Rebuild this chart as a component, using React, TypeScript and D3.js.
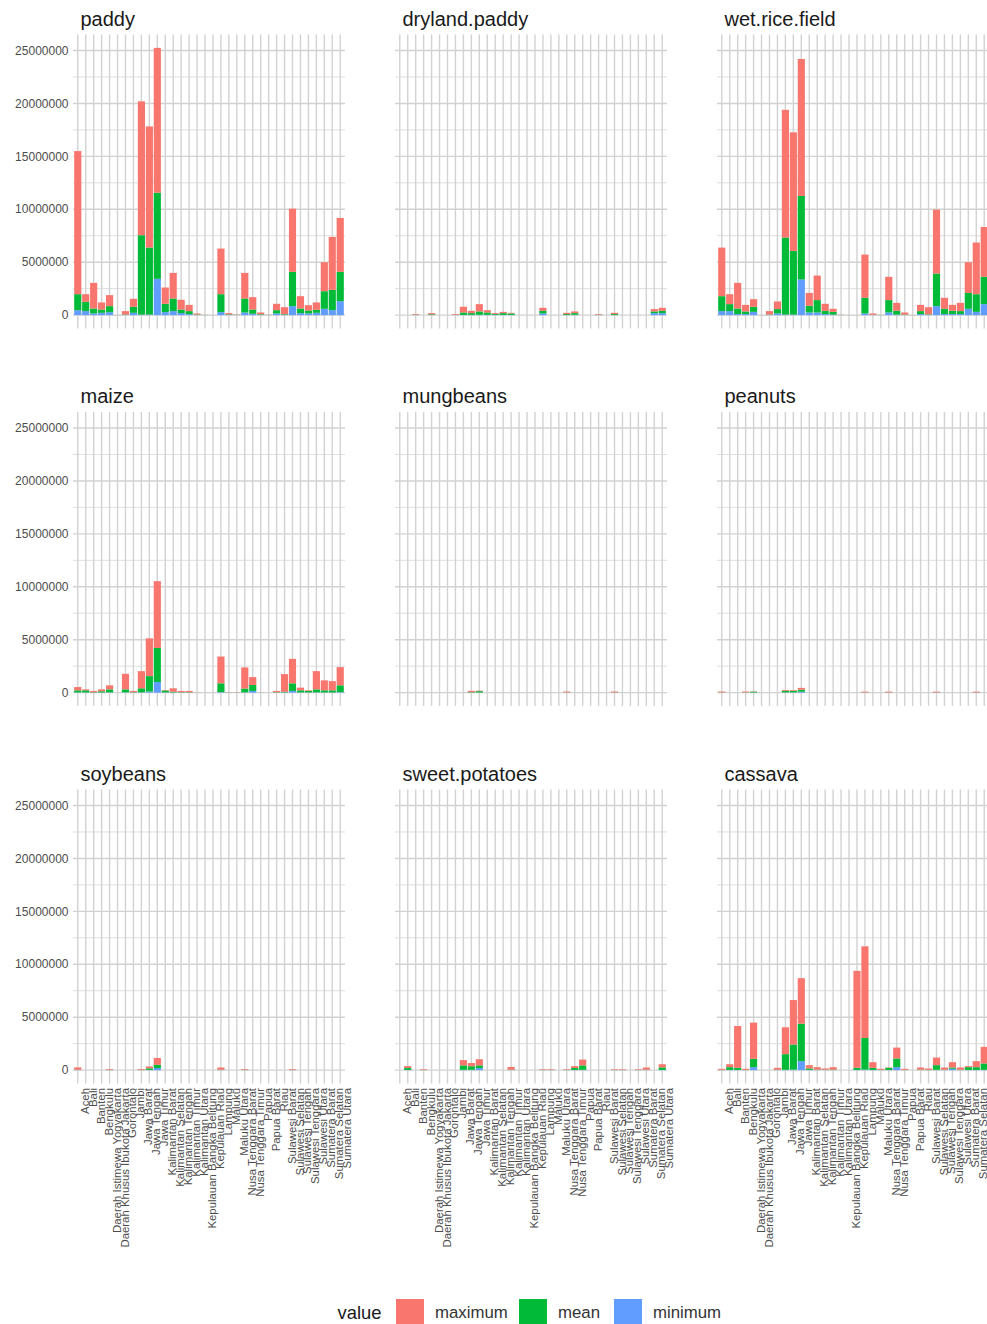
import React from "react";
import * as d3 from "d3";

// Indonesian provinces, alphabetical (x categories of every panel)
const provinces = [
  "Aceh", "Bali", "Banten", "Bengkulu", "Daerah Istimewa Yogyakarta",
  "Daerah Khusus Ibukota Jakarta", "Gorontalo", "Jambi", "Jawa Barat", "Jawa Tengah",
  "Jawa Timur", "Kalimantan Barat", "Kalimantan Selatan", "Kalimantan Tengah", "Kalimantan Timur",
  "Kalimantan Utara", "Kepulauan Bangka Belitung", "Kepulauan Riau", "Lampung", "Maluku",
  "Maluku Utara", "Nusa Tenggara Barat", "Nusa Tenggara Timur", "Papua", "Papua Barat",
  "Riau", "Sulawesi Barat", "Sulawesi Selatan", "Sulawesi Tengah", "Sulawesi Tenggara",
  "Sulawesi Utara", "Sumatera Barat", "Sumatera Selatan", "Sumatera Utara",
];

const valueLevels = ["maximum", "mean", "minimum"];
const levelColors = ["#F8766D", "#00BA38", "#619CFF"];
const yTicks = [0, 5000000, 10000000, 15000000, 20000000, 25000000];

// stacked segment values per crop (minimum at the bottom, maximum on top)
const paddy = {
  minimum: [470000, 380000, 160000, 220000, 280000, 2000, 20000, 220000, 50000, 50000, 3430000, 280000, 380000, 200000, 90000, 20000, 5000, 1000, 280000, 20000, 10000, 250000, 130000, 20000, 5000, 160000, 30000, 850000, 190000, 160000, 220000, 600000, 470000, 1320000],
  mean: [1510000, 880000, 470000, 310000, 570000, 4000, 40000, 570000, 7500000, 6340000, 8140000, 790000, 1190000, 330000, 290000, 40000, 10000, 2000, 1700000, 50000, 20000, 1320000, 400000, 60000, 10000, 310000, 60000, 3240000, 440000, 280000, 280000, 1660000, 1920000, 2770000],
  maximum: [13520000, 720000, 2420000, 670000, 1040000, 8000, 320000, 750000, 12650000, 11440000, 13680000, 1540000, 2420000, 920000, 590000, 100000, 15000, 3000, 4310000, 120000, 30000, 2420000, 1170000, 170000, 20000, 600000, 660000, 5970000, 1160000, 500000, 700000, 2740000, 5000000, 5090000],
};

const drylandPaddy = {
  minimum: [0, 0, 10000, 0, 20000, 0, 0, 10000, 20000, 20000, 30000, 30000, 20000, 20000, 20000, 0, 0, 0, 160000, 0, 0, 10000, 30000, 0, 0, 10000, 0, 10000, 0, 0, 0, 0, 190000, 190000],
  mean: [0, 0, 30000, 0, 60000, 0, 0, 20000, 230000, 170000, 320000, 220000, 80000, 170000, 140000, 0, 0, 0, 250000, 0, 0, 90000, 160000, 0, 0, 30000, 0, 90000, 0, 0, 0, 0, 160000, 220000],
  maximum: [0, 0, 60000, 0, 110000, 0, 0, 70000, 540000, 220000, 690000, 220000, 90000, 120000, 60000, 0, 0, 0, 280000, 0, 0, 120000, 160000, 0, 0, 60000, 0, 120000, 0, 0, 0, 0, 220000, 280000],
};

const wetRiceField = {
  minimum: [380000, 380000, 100000, 100000, 310000, 2000, 20000, 160000, 50000, 50000, 3370000, 250000, 250000, 100000, 50000, 5000, 2000, 1000, 160000, 10000, 5000, 250000, 50000, 10000, 3000, 100000, 20000, 850000, 100000, 100000, 100000, 600000, 310000, 1040000],
  mean: [1410000, 660000, 530000, 250000, 480000, 4000, 40000, 410000, 7280000, 6020000, 7890000, 630000, 1170000, 310000, 260000, 10000, 4000, 2000, 1480000, 30000, 10000, 1170000, 360000, 40000, 6000, 280000, 50000, 3080000, 500000, 310000, 280000, 1500000, 1670000, 2580000],
  maximum: [4590000, 940000, 2420000, 620000, 720000, 8000, 320000, 720000, 12070000, 11200000, 12940000, 1220000, 2320000, 660000, 290000, 20000, 6000, 3000, 4080000, 120000, 15000, 2200000, 750000, 200000, 10000, 590000, 680000, 6040000, 1040000, 560000, 780000, 2900000, 4880000, 4710000],
};

const maize = {
  minimum: [20000, 20000, 10000, 10000, 30000, 0, 30000, 10000, 30000, 100000, 1000000, 20000, 20000, 10000, 10000, 3000, 0, 0, 50000, 5000, 5000, 30000, 160000, 2000, 0, 10000, 20000, 160000, 20000, 20000, 30000, 20000, 20000, 50000],
  mean: [200000, 200000, 30000, 120000, 280000, 0, 280000, 30000, 380000, 1460000, 3220000, 180000, 60000, 30000, 30000, 5000, 0, 0, 830000, 10000, 10000, 350000, 560000, 4000, 0, 30000, 60000, 720000, 200000, 140000, 280000, 200000, 200000, 640000],
  maximum: [310000, 90000, 120000, 180000, 380000, 0, 1470000, 120000, 1620000, 3570000, 6310000, 50000, 330000, 120000, 120000, 8000, 0, 0, 2530000, 20000, 20000, 2000000, 750000, 8000, 0, 120000, 1670000, 2310000, 250000, 60000, 1720000, 940000, 870000, 1720000],
};

const mungbeans = {
  minimum: [0, 0, 0, 0, 0, 0, 0, 0, 0, 10000, 10000, 0, 0, 0, 0, 0, 0, 0, 0, 0, 0, 5000, 0, 0, 0, 0, 0, 5000, 0, 0, 0, 0, 0, 0],
  mean: [0, 0, 0, 0, 0, 0, 0, 0, 0, 40000, 130000, 0, 0, 0, 0, 0, 0, 0, 0, 0, 0, 20000, 0, 0, 0, 0, 0, 20000, 0, 0, 0, 0, 0, 0],
  maximum: [0, 0, 0, 0, 0, 0, 0, 0, 0, 120000, 50000, 0, 0, 0, 0, 0, 0, 0, 0, 0, 0, 80000, 0, 0, 0, 0, 0, 80000, 0, 0, 0, 0, 0, 0],
};

const peanuts = {
  minimum: [5000, 0, 0, 5000, 10000, 0, 0, 0, 20000, 20000, 80000, 0, 0, 0, 0, 0, 0, 0, 5000, 0, 0, 5000, 0, 0, 0, 0, 0, 5000, 0, 0, 0, 0, 5000, 0],
  mean: [20000, 0, 0, 20000, 80000, 0, 0, 0, 150000, 150000, 200000, 0, 0, 0, 0, 0, 0, 0, 20000, 0, 0, 20000, 0, 0, 0, 0, 0, 20000, 0, 0, 0, 0, 20000, 0],
  maximum: [80000, 0, 0, 80000, 30000, 0, 0, 0, 80000, 70000, 170000, 0, 0, 0, 0, 0, 0, 0, 70000, 0, 0, 70000, 0, 0, 0, 0, 0, 70000, 0, 0, 0, 0, 70000, 0],
};

const soybeans = {
  minimum: [10000, 0, 0, 0, 5000, 0, 0, 0, 5000, 20000, 200000, 0, 0, 0, 0, 0, 0, 0, 10000, 0, 0, 5000, 0, 0, 0, 0, 0, 5000, 0, 0, 0, 0, 0, 0],
  mean: [30000, 0, 0, 0, 20000, 0, 0, 0, 20000, 150000, 300000, 0, 0, 0, 0, 0, 0, 0, 30000, 0, 0, 20000, 0, 0, 0, 0, 0, 20000, 0, 0, 0, 0, 0, 0],
  maximum: [220000, 0, 0, 0, 70000, 0, 0, 0, 80000, 180000, 650000, 0, 0, 0, 0, 0, 0, 0, 210000, 0, 0, 70000, 0, 0, 0, 0, 0, 70000, 0, 0, 0, 0, 0, 0],
};

const sweetPotatoes = {
  minimum: [0, 20000, 0, 5000, 0, 0, 0, 0, 30000, 30000, 190000, 0, 0, 0, 10000, 0, 0, 0, 5000, 5000, 0, 5000, 20000, 30000, 0, 0, 0, 5000, 5000, 0, 5000, 10000, 0, 20000],
  mean: [0, 180000, 0, 15000, 0, 0, 0, 0, 420000, 340000, 260000, 0, 0, 0, 30000, 0, 0, 0, 15000, 15000, 0, 15000, 180000, 420000, 0, 0, 0, 15000, 15000, 0, 15000, 30000, 0, 240000],
  maximum: [0, 180000, 0, 60000, 0, 0, 0, 0, 500000, 300000, 580000, 0, 0, 0, 260000, 0, 0, 0, 60000, 60000, 0, 60000, 180000, 550000, 0, 0, 0, 60000, 60000, 0, 60000, 210000, 0, 300000],
};

const cassava = {
  minimum: [5000, 20000, 20000, 5000, 280000, 0, 0, 10000, 30000, 50000, 850000, 20000, 10000, 10000, 10000, 0, 0, 20000, 50000, 20000, 5000, 20000, 280000, 5000, 0, 10000, 5000, 30000, 10000, 130000, 10000, 20000, 20000, 30000],
  mean: [20000, 260000, 200000, 20000, 790000, 0, 0, 30000, 1480000, 2370000, 3540000, 140000, 40000, 30000, 40000, 0, 0, 200000, 2990000, 200000, 20000, 200000, 820000, 20000, 0, 30000, 20000, 440000, 30000, 120000, 30000, 260000, 260000, 600000],
  maximum: [100000, 280000, 3950000, 100000, 3420000, 0, 0, 180000, 2540000, 4200000, 4300000, 310000, 230000, 120000, 230000, 0, 0, 9160000, 8660000, 530000, 100000, 30000, 1030000, 100000, 0, 210000, 130000, 720000, 210000, 500000, 210000, 100000, 570000, 1570000],
};

const crops = [
  { name: "paddy", values: paddy },
  { name: "dryland.paddy", values: drylandPaddy },
  { name: "wet.rice.field", values: wetRiceField },
  { name: "maize", values: maize },
  { name: "mungbeans", values: mungbeans },
  { name: "peanuts", values: peanuts },
  { name: "soybeans", values: soybeans },
  { name: "sweet.potatoes", values: sweetPotatoes },
  { name: "cassava", values: cassava },
];

const FONT = "'Liberation Sans', Arial, Helvetica, sans-serif";
const WIDTH = 987;
const HEIGHT = 1324;
const panelW = 272;
const panelH = 294;
const colLeft = [73, 395, 717];
const rowTop = [34.5, 412, 789.5];
const gridColor = "#d2d2d2";
const minorGridColor = "#dedede";

const x = d3.scalePoint<string>().domain(provinces).range([0, panelW]).padding(0.6);
const barW = x.step() * 0.9;

const totals = crops.flatMap((c) =>
  provinces.map((_, i) => c.values.minimum[i] + c.values.mean[i] + c.values.maximum[i])
);
const maxTotal = d3.max(totals) as number;
const y = d3
  .scaleLinear()
  .domain([-0.05 * maxTotal, 1.05 * maxTotal])
  .range([panelH, 0]);

const minorTicks = yTicks.slice(1).map((t, i) => (t + yTicks[i]) / 2);
const colorOf = d3.scaleOrdinal<string, string>().domain(valueLevels).range(levelColors);
const stacker = d3.stack<any>().keys(["minimum", "mean", "maximum"]);

function Panel({ crop, col, row }: { crop: (typeof crops)[number]; col: number; row: number }) {
  const left = colLeft[col];
  const top = rowTop[row];
  const rows = provinces.map((p, i) => ({
    province: p,
    minimum: crop.values.minimum[i],
    mean: crop.values.mean[i],
    maximum: crop.values.maximum[i],
  }));
  const series = stacker(rows);
  return (
    <g transform={`translate(${left},${top})`}>
      <text x={7.5} y={-9} fontSize={20} fill="#1a1a1a" fontFamily={FONT}>
        {crop.name}
      </text>
      {minorTicks.map((t) => (
        <line key={"mn" + t} x1={0} x2={panelW} y1={y(t)} y2={y(t)} stroke={minorGridColor} strokeWidth={1} />
      ))}
      {yTicks.map((t) => (
        <line key={"mj" + t} x1={0} x2={panelW} y1={y(t)} y2={y(t)} stroke={gridColor} strokeWidth={1.4} />
      ))}
      {provinces.map((p) => (
        <line key={"v" + p} x1={x(p)} x2={x(p)} y1={0} y2={panelH} stroke={gridColor} strokeWidth={1.4} />
      ))}
      {series.map((s) => (
        <g key={s.key} fill={colorOf(s.key)}>
          {s.map((d, i) => {
            const h = y(d[0]) - y(d[1]);
            if (h <= 0) return null;
            return (
              <rect
                key={i}
                x={(x(provinces[i]) as number) - barW / 2}
                y={y(d[1])}
                width={barW}
                height={h}
              />
            );
          })}
        </g>
      ))}
      {col === 0 &&
        yTicks.map((t) => (
          <text
            key={"yl" + t}
            x={-4.5}
            y={y(t)}
            dy="0.35em"
            textAnchor="end"
            fontSize={12}
            fill="#4d4d4d"
            fontFamily={FONT}
          >
            {d3.format("d")(t)}
          </text>
        ))}
      {row === 2 &&
        provinces.map((p) => (
          <text
            key={"xl" + p}
            transform={`translate(${(x(p) as number) + 11},${panelH + 4.5}) rotate(-90)`}
            textAnchor="end"
            fontSize={11.4}
            fill="#4d4d4d"
            fontFamily={FONT}
          >
            {p}
          </text>
        ))}
    </g>
  );
}

const legendKeyX = [396, 519, 614];

export default function App() {
  return (
    <svg
      width={WIDTH}
      height={HEIGHT}
      style={{ position: "absolute", left: 0, top: 0, background: "#ffffff" }}
    >
      <rect width={WIDTH} height={HEIGHT} fill="#ffffff" />
      {crops.map((c, k) => (
        <Panel key={c.name} crop={c} col={k % 3} row={Math.floor(k / 3)} />
      ))}
      <g fontFamily={FONT}>
        <text x={337.5} y={1319} fontSize={18.4} fill="#1a1a1a">
          value
        </text>
        {valueLevels.map((lv, i) => (
          <g key={lv}>
            <rect x={legendKeyX[i]} y={1299} width={28} height={28} fill={colorOf(lv)} />
            <text x={legendKeyX[i] + 39} y={1318} fontSize={16.8} fill="#333333">
              {lv}
            </text>
          </g>
        ))}
      </g>
    </svg>
  );
}
